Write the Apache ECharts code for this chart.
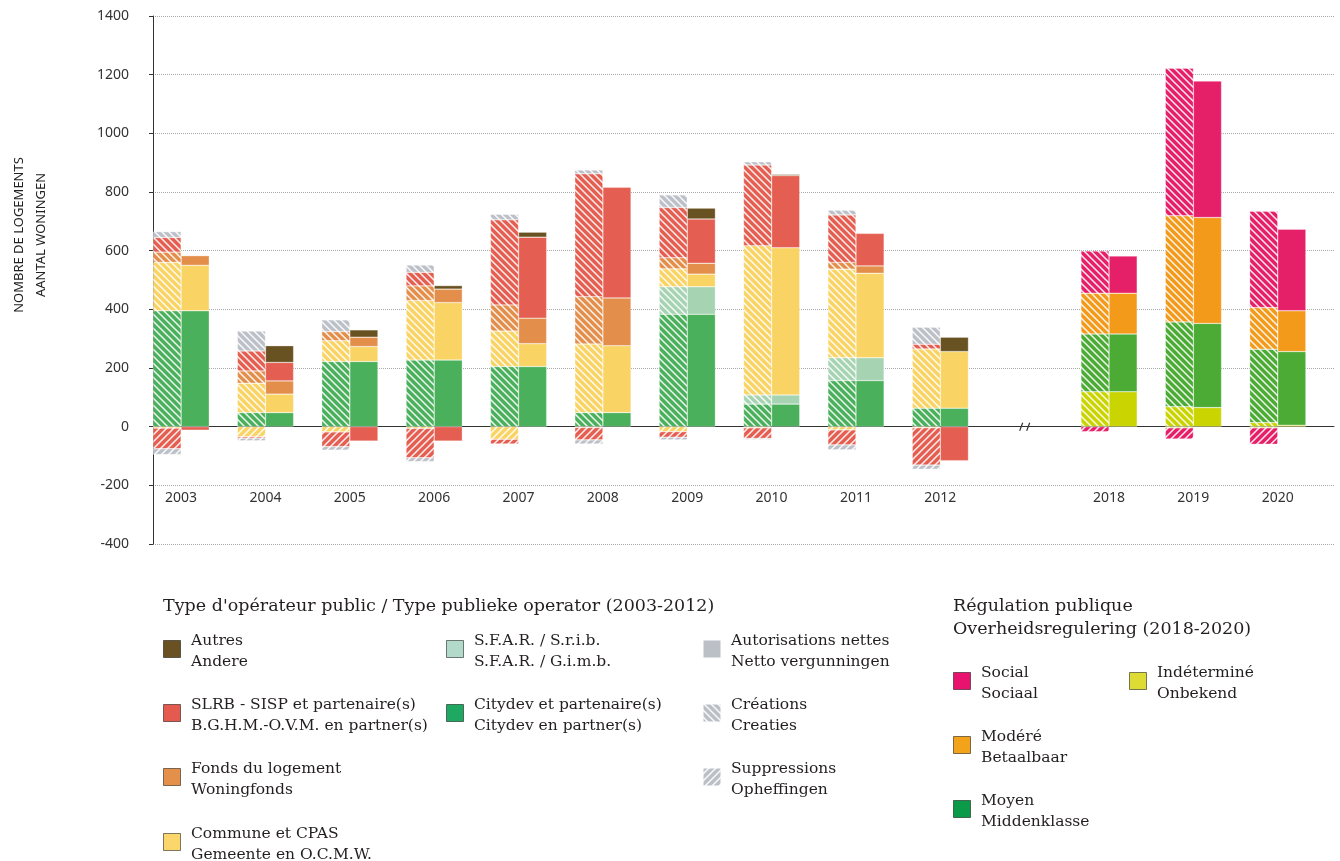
<!DOCTYPE html>
<html>
<head>
<meta charset="utf-8">
<title>Logements publics</title>
<script src="https://cdn.jsdelivr.net/npm/echarts@6.0.0/dist/echarts.min.js"></script>
<style>
  html, body { margin: 0; padding: 0; background: #fff; }
  #chart { width: 1340px; height: 861px; }
</style>
</head>
<body>
<div id="chart"></div>
<script>
// years
var years = ['2003', '2004', '2005', '2006', '2007', '2008', '2009', '2010', '2011', '2012'];
var regYears = ['2018', '2019', '2020'];

// créations (hachuré, au-dessus de 0) 2003-2012
var creCitydev = [395, 48, 222, 227, 205, 48, 383, 77, 157, 63];
var creSfar    = [0, 0, 0, 0, 0, 0, 94, 31, 78, 0];
var creCommune = [165, 100, 71, 203, 121, 234, 61, 509, 302, 202];
var creFonds   = [35, 42, 31, 50, 89, 161, 38, 0, 23, 0];
var creSlrb    = [50, 68, 0, 46, 290, 419, 171, 275, 162, 16];
var creGrey    = [20, 68, 40, 25, 19, 13, 43, 11, 16, 58];

// suppressions (hachuré, sous 0)
var supCommune = [-5, -34, -18, -6, -43, -3, -17, -4, -11, -4];
var supSlrb    = [-70, -5, -50, -100, -16, -42, -19, -36, -51, -127];
var supGrey    = [-20, -9, -12, -13, 0, -14, -9, -4, -17, -14];

// autorisations nettes (plein)
var netCitydev = [395, 48, 222, 227, 205, 48, 383, 77, 157, 63];
var netSfar    = [0, 0, 0, 0, 0, 0, 94, 31, 78, 0];
var netCommune = [155, 63, 51, 196, 78, 228, 43, 502, 288, 193];
var netFonds   = [33, 45, 32, 46, 87, 163, 37, 0, 25, 0];
var netSlrb    = [-12, 63, -49, -49, 276, 377, 151, 246, 111, -116];
var netAutres  = [0, 57, 25, 12, 17, 0, 37, 4, 0, 49];

// régulation publique 2018-2020
var creIndet  = [119, 68, 14];
var creMoyen  = [197, 289, 250];
var creModere = [139, 362, 142];
var creSocial = [144, 503, 328];
var supIndet  = [0, -4, -4];
var supSocial = [-17, -38, -56];
var netIndet  = [119, 65, 5];
var netMoyen  = [197, 287, 251];
var netModere = [139, 361, 139];
var netSocial = [127, 465, 278];

var yTicks = [-400, -200, 0, 200, 400, 600, 800, 1000, 1200, 1400];

var col = {
  autres: '#695221', slrb: '#e45f51', fonds: '#e38f4b', commune: '#f9d464',
  sfar: '#a6d4b3', citydev: '#4ab05b', grey: '#bcc0c8',
  social: '#e61f69', modere: '#f39a1b', moyen: '#4bab35', indet: '#c9d400'
};

// 42 slots : [création, net, vide] par année, 3 slots de coupure
var NSLOT = 42;
var cats = [];
years.forEach(function (y) { cats.push(y + ' c', y + ' n', y + ' -'); });
cats.push('gap1', 'gap2', 'gap3');
regYears.forEach(function (y) { cats.push(y + ' c', y + ' n', y + ' -'); });
var labelAt = {};
years.forEach(function (y, i) { labelAt[3 * i] = y; });
regYears.forEach(function (y, j) { labelAt[33 + 3 * j] = y; });

function place(vals, base, offset) {
  var out = [];
  for (var k = 0; k < NSLOT; k++) out.push('-');
  vals.forEach(function (v, i) { if (v !== 0) out[base + 3 * i + offset] = v; });
  return out;
}

function hatch(color, dir) {
  var s = 7, c = document.createElement('canvas');
  c.width = c.height = s;
  var g = c.getContext('2d');
  g.fillStyle = color; g.fillRect(0, 0, s, s);
  g.strokeStyle = 'rgba(255,255,255,0.9)';
  g.lineWidth = 1.5;
  g.beginPath();
  for (var k = -1; k <= 2; k++) {
    if (dir > 0) { g.moveTo(-1, k * s - 1); g.lineTo(s + 1, k * s + s + 1); }
    else { g.moveTo(-1, k * s + 1); g.lineTo(s + 1, k * s - s - 1); }
  }
  g.stroke();
  return { image: c, repeat: 'repeat' };
}

var series = [];
function bar(name, data, fill) {
  series.push({
    name: name, type: 'bar', stack: 'all', data: data,
    barCategoryGap: '0%',
    itemStyle: { color: fill, borderColor: 'rgba(255,255,255,0.6)', borderWidth: 0.5 },
    emphasis: { disabled: true }
  });
}

// 2003-2012 créations
bar('cre citydev', place(creCitydev, 0, 0), hatch(col.citydev, 1));
bar('cre sfar', place(creSfar, 0, 0), hatch(col.sfar, 1));
bar('cre commune', place(creCommune, 0, 0), hatch(col.commune, 1));
bar('cre fonds', place(creFonds, 0, 0), hatch(col.fonds, 1));
bar('cre slrb', place(creSlrb, 0, 0), hatch(col.slrb, 1));
bar('cre grey', place(creGrey, 0, 0), hatch(col.grey, 1));
// suppressions
bar('sup commune', place(supCommune, 0, 0), hatch(col.commune, -1));
bar('sup slrb', place(supSlrb, 0, 0), hatch(col.slrb, -1));
bar('sup grey', place(supGrey, 0, 0), hatch(col.grey, -1));
// nettes
bar('Citydev', place(netCitydev, 0, 1), col.citydev);
bar('SFAR', place(netSfar, 0, 1), col.sfar);
bar('Commune', place(netCommune, 0, 1), col.commune);
bar('Fonds', place(netFonds, 0, 1), col.fonds);
bar('SLRB', place(netSlrb, 0, 1), col.slrb);
bar('Autres', place(netAutres, 0, 1), col.autres);
// 2018-2020
bar('cre indet', place(creIndet, 33, 0), hatch(col.indet, 1));
bar('cre moyen', place(creMoyen, 33, 0), hatch(col.moyen, 1));
bar('cre modere', place(creModere, 33, 0), hatch(col.modere, 1));
bar('cre social', place(creSocial, 33, 0), hatch(col.social, 1));
bar('sup indet', place(supIndet, 33, 0), hatch(col.indet, -1));
bar('sup social', place(supSocial, 33, 0), hatch(col.social, -1));
bar('Indéterminé', place(netIndet, 33, 1), col.indet);
bar('Moyen', place(netMoyen, 33, 1), col.moyen);
bar('Modéré', place(netModere, 33, 1), col.modere);
bar('Social', place(netSocial, 33, 1), col.social);

// légende
var serif = '"DejaVu Serif", serif';
var txt = '#231f20';
var graphics = [];
function label(x, y, text, size, lh) {
  graphics.push({ type: 'text', x: x, y: y, style: {
    text: text, fill: txt, font: (size || 15.5) + 'px ' + serif, lineHeight: lh || 21, verticalAlign: 'top'
  } });
}
function swatch(x, y, fill, stroke) {
  graphics.push({ type: 'rect', shape: { x: x + 0.5, y: y + 0.5, width: 17, height: 17 },
    style: { fill: fill, stroke: stroke ? 'rgba(0,0,0,0.5)' : null, lineWidth: 1 } });
}
function entry(x, y, fill, text, stroke) {
  swatch(x, y, fill, stroke);
  label(x + 28, y - 10, text);
}
label(163, 596, "Type d'opérateur public / Type publieke operator (2003-2012)", 17.5);
entry(163, 640, '#6a5121', 'Autres\nAndere', true);
entry(163, 704, '#e55a4e', 'SLRB - SISP et partenaire(s)\nB.G.H.M.-O.V.M. en partner(s)', true);
entry(163, 768, '#e4904a', 'Fonds du logement\nWoningfonds', true);
entry(163, 833, '#fbd66b', 'Commune et CPAS\nGemeente en O.C.M.W.', true);
entry(446, 640, '#b2dacb', 'S.F.A.R. / S.r.i.b.\nS.F.A.R. / G.i.m.b.', true);
entry(446, 704, '#1fa862', 'Citydev et partenaire(s)\nCitydev en partner(s)', true);
entry(703, 640, '#bbbfc6', 'Autorisations nettes\nNetto vergunningen', false);
entry(703, 704, hatch('#bbbfc6', 1), 'Créations\nCreaties', false);
entry(703, 768, hatch('#bbbfc6', -1), 'Suppressions\nOpheffingen', false);
label(953, 595, 'Régulation publique\nOverheidsregulering (2018-2020)', 17.5, 23);
entry(953, 672, '#e8126f', 'Social\nSociaal', true);
entry(953, 736, '#f2a31a', 'Modéré\nBetaalbaar', true);
entry(953, 800, '#0a9a48', 'Moyen\nMiddenklasse', true);
entry(1129, 672, '#dedc34', 'Indéterminé\nOnbekend', true);

// titre de l'axe Y
graphics.push({ type: 'text', x: 30, y: 235, rotation: Math.PI / 2, style: {
  text: 'NOMBRE DE LOGEMENTS\nAANTAL WONINGEN', fill: '#222', font: '13px "Noto Sans", sans-serif',
  align: 'center', verticalAlign: 'middle', lineHeight: 22
} });

var chart = echarts.init(document.getElementById('chart'));
var option = {
  animation: false,
  grid: { left: 153, right: 6, top: 16, bottom: 317 },
  xAxis: {
    type: 'category', data: cats,
    axisLine: { onZero: true, lineStyle: { color: '#333', width: 1 } },
    axisTick: { interval: 0, length: 5, lineStyle: { color: '#333' } },
    axisLabel: {
      interval: 0, margin: -53, color: '#333', fontSize: 14, fontFamily: 'Noto Sans',
      padding: [0, 0, 0, 28],
      formatter: function (v, i) { return labelAt[i] || ''; }
    },
    splitLine: { show: false }
  },
  yAxis: {
    type: 'value', min: yTicks[0], max: yTicks[yTicks.length - 1], interval: 200,
    axisLine: { show: true, lineStyle: { color: '#333' } },
    axisTick: { show: true, length: 4, lineStyle: { color: '#333' } },
    axisLabel: { color: '#333', fontSize: 14, fontFamily: 'Noto Sans', margin: 24,
      formatter: function (v) { return String(v); } },
    splitLine: { lineStyle: { color: '#aaa', type: 'dotted', width: 1 } }
  },
  graphic: graphics,
  series: series
};
chart.setOption(option);

// coupure de l'axe entre 2012 et 2018
var a = chart.convertToPixel({ xAxisIndex: 0 }, 'gap1');
var b = chart.convertToPixel({ xAxisIndex: 0 }, 'gap2');
var y0 = chart.convertToPixel({ yAxisIndex: 0 }, 0);
var bx = (a + b) / 2;
graphics.push(
  { type: 'rect', shape: { x: bx - 6, y: y0 - 1, width: 12, height: 8 }, style: { fill: '#fff' } },
  { type: 'line', shape: { x1: bx - 5, y1: y0 + 4, x2: bx - 2, y2: y0 - 4 }, style: { stroke: '#333', lineWidth: 1.2 } },
  { type: 'line', shape: { x1: bx + 2, y1: y0 + 4, x2: bx + 5, y2: y0 - 4 }, style: { stroke: '#333', lineWidth: 1.2 } }
);
chart.setOption({ graphic: graphics });
</script>
</body>
</html>
